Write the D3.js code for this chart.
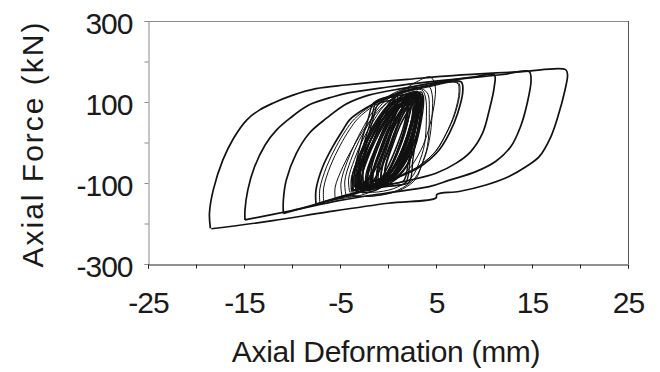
<!DOCTYPE html>
<html>
<head>
<meta charset="utf-8">
<script src="https://cdn.jsdelivr.net/npm/d3@7"></script>
<style>
  body { margin: 0; background: #fff; }
  text { font-family: "Liberation Sans", Arial, sans-serif; fill: #1a1a1a; }
</style>
</head>
<body>
<div id="chart"></div>
<script>
// axis setup
var xTicks = [-25, -20, -15, -10, -5, 0, 5, 10, 15, 20, 25];
var xLabels = [-25, -15, -5, 5, 15, 25];
var yTicks = [-300, -200, -100, 0, 100, 200, 300];
var yLabels = [-300, -100, 100, 300];

// big cycles, [deformation mm, force kN]
var cycleA = [[-18.5,-212],[-18.6,-175],[-18.2,-117],[-17.2,-43],[-16.1,10],[-14.7,56],[-13.4,80],[-12,97],[-9.9,117],[-7.5,133],[-4.4,142],[-1.5,149],[2,156],[6,164],[10,170],[14,175],[18.5,180],[18.7,167],[18.35,121],[17.8,72],[16.96,14],[15.75,-35],[14.36,-60],[12.6,-84],[10.2,-105],[7.4,-121],[5.1,-128],[5.0,-137],[0,-150],[-6.4,-172],[-12,-193],[-18.4,-213]];
var cycleB = [[-14.9,-191],[-14.9,-167],[-14.6,-117],[-13.9,-60],[-12.8,-6],[-11.6,31],[-10.2,60],[-8.2,93],[-5.7,113],[-4,123],[0,137],[4,149],[8.8,160],[12,168],[14.7,175],[14.9,154],[14.5,97],[13.8,39],[12.8,-10],[11.2,-47],[9.15,-72],[6.4,-93],[4.3,-109],[0,-124],[-5,-143],[-10,-168],[-14.9,-191]];
var cycleC = [[-10.9,-175],[-10.9,-142],[-10.6,-93],[-9.55,-27],[-8.2,23],[-6.4,60],[-4.35,95],[-2,117],[1.9,135],[6,152],[9,162],[11.07,167],[11.07,138],[10.55,80],[9.85,23],[8.6,-23],[7.1,-51],[5,-76],[1.9,-95],[-2,-116],[-5,-134],[-8,-156],[-10.9,-175]];
var cycleD = [[-7.5,-152],[-7.5,-117],[-6.8,-60],[-5.75,-10],[-4.7,31],[-4,56],[-2.3,85],[0.5,118],[4,140],[7.6,150],[7.8,130],[7.26,72],[6.4,23],[5.35,-18],[4.3,-43],[3,-65],[0,-96],[-4,-131],[-7.5,-152]];
var bigCycles = [cycleA, cycleB, cycleC, cycleD];

// thinner cycles round the core
var midCycles = [
  [[-7.1,-149],[-7.1,-115],[-6.4,-60],[-5.4,-10],[-4.4,30],[-3.5,58],[-1.9,88],[0.8,118],[4.0,138],[7.3,148],[7.5,128],[7.0,72],[6.1,23],[5.1,-18],[4.0,-44],[2.7,-67],[-0.2,-97],[-4,-129],[-7.1,-149]],
  [[-6.7,-146],[-6.7,-112],[-6.0,-58],[-5.0,-8],[-4.0,32],[-3.1,60],[-1.5,90],[1.0,118],[4.2,137],[7.2,147],[7.4,126],[6.9,70],[6.0,20],[5.0,-20],[3.9,-46],[2.5,-68],[-0.4,-98],[-3.8,-127],[-6.7,-146]],
  [[-5.5,-140],[-5.5,-110],[-4.7,-60],[-3.6,-10],[-2.3,40],[-0.6,88],[1.3,124],[3.0,150],[4.4,162],[4.9,142],[4.8,92],[4.2,30],[3.4,-20],[2.0,-70],[-0.3,-106],[-2.8,-130],[-5.5,-140]],
  [[-4.8,-132],[-4.9,-100],[-4.3,-50],[-3.4,0],[-2.4,45],[-1.2,88],[0.3,118],[2.0,134],[4.2,140],[4.6,118],[4.6,70],[4.3,5],[3.7,-45],[2.8,-88],[1.0,-118],[-1.5,-132],[-4.8,-132]],
  [[-4.4,-128],[-4.5,-95],[-3.9,-45],[-3.0,5],[-2.0,47],[-0.9,88],[0.5,116],[1.9,132],[3.2,135],[4.1,122],[4.3,72],[4.1,-10],[3.5,-55],[2.9,-90],[1.5,-115],[-0.5,-129],[-2.6,-133],[-4.4,-128]],
  [[-4.0,-122],[-4.1,-90],[-3.5,-42],[-2.6,8],[-1.6,50],[-0.5,88],[0.9,114],[2.2,128],[3.5,130],[3.9,112],[4.0,65],[3.8,-5],[3.2,-52],[2.5,-85],[1.0,-110],[-1.0,-122],[-4.0,-122]]
];

// dense core cycles
var coreCycles = [
  [[-3.6,-117],[-3.7,-82],[-3.0,-32],[-2.0,18],[-1.0,58],[0.2,93],[2.4,117],[3.3,122],[3.45,97],[3.3,52],[2.8,-8],[1.9,-58],[0.7,-88],[-2.1,-109],[-3.6,-117]],
  [[-3.2,-112],[-3.2,-80],[-2.5,-30],[-1.5,20],[-0.5,60],[0.7,92],[2.2,112],[3.0,118],[3.1,95],[2.9,50],[2.3,-5],[1.4,-55],[0.2,-88],[-1.8,-106],[-3.2,-112]],
  [[-2.8,-108],[-2.9,-75],[-2.1,-25],[-1.0,25],[0.0,62],[1.2,90],[2.5,106],[3.4,110],[3.5,88],[3.2,40],[2.6,-10],[1.6,-58],[0.4,-90],[-1.4,-104],[-2.8,-108]],
  [[-2.2,-105],[-2.1,-70],[-1.4,-20],[-0.5,30],[0.4,68],[1.4,96],[2.2,110],[2.6,112],[2.7,90],[2.3,40],[1.7,-10],[0.9,-55],[-0.2,-88],[-1.3,-101],[-2.2,-105]],
  [[-3.8,-120],[-3.8,-88],[-3.1,-40],[-2.2,12],[-1.2,55],[0.0,92],[1.6,116],[2.8,125],[3.1,102],[3.0,55],[2.5,0],[1.6,-50],[0.4,-85],[-1.8,-110],[-3.8,-120]],
  [[-1.8,-98],[-1.7,-60],[-1.0,-10],[-0.1,38],[0.8,74],[1.6,96],[2.2,105],[2.3,85],[1.9,35],[1.2,-15],[0.4,-58],[-0.6,-86],[-1.8,-98]],
  [[-3.0,-115],[-3.2,-85],[-2.6,-35],[-1.6,15],[-0.6,55],[0.8,88],[2.4,110],[3.6,118],[3.7,95],[3.4,45],[2.9,-5],[2.0,-55],[0.8,-88],[-1.2,-108],[-3.0,-115]],
  [[-2.5,-110],[-2.6,-72],[-1.9,-22],[-1.0,28],[0.0,68],[1.0,98],[2.2,118],[3.1,126],[3.2,100],[2.8,45],[2.1,-10],[1.2,-60],[0.0,-92],[-1.3,-106],[-2.5,-110]],
  [[-3.4,-104],[-3.3,-70],[-2.6,-22],[-1.6,28],[-0.6,66],[0.6,96],[1.6,112],[2.4,118],[2.6,96],[2.4,48],[1.8,-5],[0.9,-52],[-0.3,-84],[-1.9,-100],[-3.4,-104]],
  [[-1.2,-100],[-1.1,-65],[-0.4,-15],[0.4,32],[1.2,70],[2.0,96],[2.9,108],[2.9,88],[2.3,40],[1.6,-10],[0.7,-55],[-0.3,-88],[-1.2,-100]],
  [[-2.0,-120],[-2.1,-85],[-1.5,-38],[-0.7,10],[0.2,52],[1.0,82],[1.8,100],[2.0,80],[1.7,30],[1.0,-20],[0.2,-65],[-0.8,-100],[-2.0,-120]],
  [[-3.3,-122],[-3.4,-92],[-2.8,-45],[-1.8,5],[-0.8,48],[0.5,82],[2.0,104],[3.3,112],[3.5,90],[3.3,42],[2.8,-10],[1.9,-60],[0.6,-95],[-1.4,-115],[-3.3,-122]],
  [[-2.6,-96],[-2.6,-62],[-1.9,-15],[-0.8,35],[0.3,72],[1.5,100],[2.6,118],[3.5,124],[3.6,102],[3.3,52],[2.7,0],[1.8,-48],[0.5,-80],[-1.2,-93],[-2.6,-96]],
  [[-0.8,-96],[-0.6,-55],[0.0,-5],[0.7,45],[1.4,82],[2.0,98],[2.1,75],[1.6,25],[0.9,-25],[0.2,-68],[-0.8,-96]],
  [[-1.5,-112],[-1.6,-78],[-1.0,-30],[-0.1,20],[0.9,60],[2.0,88],[3.2,100],[3.2,80],[2.7,30],[2.0,-20],[1.1,-65],[-0.1,-98],[-1.5,-112]],
  [[-2.9,-118],[-3.0,-85],[-2.3,-35],[-1.3,15],[-0.3,55],[0.9,88],[2.1,108],[3.0,114],[3.2,92],[3.0,45],[2.4,-8],[1.5,-58],[0.3,-92],[-1.4,-112],[-2.9,-118]],
  [[-3.5,-110],[-3.5,-78],[-2.8,-30],[-1.8,20],[-0.8,60],[0.4,92],[1.8,112],[2.9,120],[3.1,98],[2.8,50],[2.2,-2],[1.3,-52],[0.1,-86],[-1.8,-104],[-3.5,-110]],
  [[-2.3,-114],[-2.3,-80],[-1.6,-30],[-0.6,22],[0.4,62],[1.5,94],[2.6,114],[3.3,118],[3.4,95],[3.0,45],[2.4,-5],[1.5,-55],[0.4,-90],[-1.0,-108],[-2.3,-114]],
  [[-1.6,-108],[-1.5,-72],[-0.8,-22],[0.1,28],[1.0,68],[1.9,98],[2.7,114],[2.8,92],[2.3,42],[1.6,-8],[0.7,-55],[-0.4,-92],[-1.6,-108]],
  [[-3.1,-100],[-3.0,-66],[-2.3,-18],[-1.3,32],[-0.2,70],[1.0,98],[2.1,114],[2.8,120],[2.9,98],[2.6,50],[2.0,0],[1.1,-48],[-0.1,-80],[-1.6,-96],[-3.1,-100]],
  [[-0.4,-102],[-0.3,-62],[0.3,-12],[1.0,38],[1.7,76],[2.4,100],[3.0,112],[3.0,90],[2.5,40],[1.8,-12],[1.0,-58],[0.2,-90],[-0.4,-102]],
  [[-2.7,-124],[-2.8,-92],[-2.2,-45],[-1.3,5],[-0.3,48],[0.8,84],[2.0,106],[2.9,112],[3.0,90],[2.7,42],[2.1,-10],[1.2,-62],[0.0,-98],[-1.3,-118],[-2.7,-124]],
  [[-1.0,-110],[-1.0,-75],[-0.4,-25],[0.4,25],[1.3,66],[2.2,96],[3.2,116],[3.3,92],[2.8,42],[2.1,-10],[1.2,-58],[0.1,-92],[-1.0,-110]],
  [[-3.7,-118],[-3.4,-60],[-2.8,0],[-2.1,55],[-1.5,98],[-0.5,110],[1.5,117],[3.3,121],[3.4,80],[3.0,20],[2.6,-40],[2.2,-98],[1.0,-105],[-1.5,-112],[-3.7,-118]],
  [[-3.3,-112],[-3.0,-55],[-2.4,5],[-1.7,60],[-1.2,100],[0.5,112],[2.8,118],[3.1,75],[2.7,15],[2.3,-45],[1.8,-100],[0.0,-108],[-3.3,-112]],
  [[-3.0,-105],[-2.7,-50],[-2.1,10],[-1.5,62],[-1.0,95],[1.0,106],[3.0,112],[3.1,70],[2.6,10],[2.1,-50],[1.6,-95],[-0.5,-102],[-3.0,-105]]
];

// narrow sub-cycles filling the middle of the core
var narrowCycles = [
  [[-3.2,-118],[-3.0,-76],[-2.3,-26],[-1.5,24],[-0.6,66],[0.1,96],[0.6,110],[0.7,90],[0.2,40],[-0.5,-10],[-1.4,-60],[-2.3,-98],[-3.2,-118]],
  [[-2.8,-112],[-2.6,-70],[-1.9,-20],[-1.1,30],[-0.2,72],[0.5,100],[0.9,115],[1.0,95],[0.5,45],[-0.2,-5],[-1.1,-55],[-2.0,-92],[-2.8,-112]],
  [[-2.3,-116],[-2.1,-74],[-1.4,-24],[-0.6,26],[0.3,68],[1.0,98],[1.4,114],[1.5,94],[1.0,44],[0.3,-6],[-0.6,-56],[-1.5,-94],[-2.3,-116]],
  [[-1.8,-114],[-1.6,-72],[-0.9,-22],[-0.1,28],[0.8,70],[1.5,100],[1.9,116],[2.1,96],[1.7,46],[1.0,-4],[0.1,-54],[-0.8,-92],[-1.8,-114]],
  [[-1.3,-110],[-1.1,-68],[-0.4,-18],[0.4,32],[1.3,74],[2.0,102],[2.4,118],[2.5,98],[2.0,48],[1.3,-2],[0.4,-52],[-0.5,-90],[-1.3,-110]],
  [[-0.8,-104],[-0.6,-62],[0.1,-12],[0.9,38],[1.8,78],[2.5,104],[2.9,118],[3.0,98],[2.5,50],[1.8,0],[0.9,-48],[0.0,-85],[-0.8,-104]],
  [[-0.4,-98],[-0.2,-56],[0.5,-6],[1.3,44],[2.2,82],[2.9,106],[3.3,120],[3.4,100],[2.9,52],[2.2,2],[1.3,-46],[0.4,-80],[-0.4,-98]]
];

var width = 660, height = 372;
var padL = 148, padR = 628, padT = 21, padB = 264;

var svg = d3.select("#chart").append("svg")
    .attr("width", width)
    .attr("height", height);

var x = d3.scaleLinear().domain([-25, 25]).range([padL, padR]);
var y = d3.scaleLinear().domain([-300, 300]).range([padB, padT]);

// frame
svg.append("line").attr("x1", padL).attr("x2", padR).attr("y1", padT + 0.5).attr("y2", padT + 0.5)
    .attr("stroke", "#8a8a8a");
svg.append("line").attr("x1", padR + 0.5).attr("x2", padR + 0.5).attr("y1", padT).attr("y2", padB)
    .attr("stroke", "#555");

var line = d3.line()
    .x(function (d) { return x(d[0]); })
    .y(function (d) { return y(d[1]); })
    .curve(d3.curveCatmullRom.alpha(0.5));

var plot = svg.append("g").attr("fill", "none").attr("stroke", "#111")
    .attr("stroke-linejoin", "round");

plot.selectAll(".narrow").data(narrowCycles).enter().append("path")
    .attr("class", "narrow").attr("stroke-width", 1.6).attr("d", line);
plot.selectAll(".core").data(coreCycles).enter().append("path")
    .attr("class", "core").attr("stroke-width", 1.4).attr("d", line);
plot.selectAll(".mid").data(midCycles).enter().append("path")
    .attr("class", "mid").attr("stroke-width", 1).attr("d", line);
plot.selectAll(".big").data(bigCycles).enter().append("path")
    .attr("class", "big").attr("stroke-width", 1.7).attr("d", line);

// axes
var yAxis = d3.axisLeft(y).tickValues(yTicks).tickSize(4).tickPadding(12)
    .tickFormat(function (d) { return yLabels.indexOf(d) >= 0 ? d : ""; });
var gy = svg.append("g").attr("transform", "translate(" + (padL + 0.5) + ",0)").call(yAxis);
gy.selectAll("path, line").attr("stroke", "#8a8a8a");
gy.selectAll("text").attr("font-size", 30).attr("dy", "0.42em").attr("letter-spacing", -1)
    .style("font-family", "'Liberation Sans', Arial, sans-serif").attr("fill", "#1a1a1a");

var xAxis = d3.axisBottom(x).tickValues(xTicks).tickSize(4).tickPadding(23)
    .tickFormat(function (d) { return xLabels.indexOf(d) >= 0 ? d : ""; });
var gx = svg.append("g").attr("transform", "translate(0," + (padB + 0.5) + ")").call(xAxis);
gx.selectAll("path, line").attr("stroke", "#222");
gx.selectAll("text").attr("font-size", 30).attr("letter-spacing", -1)
    .style("font-family", "'Liberation Sans', Arial, sans-serif").attr("fill", "#1a1a1a");

// titles
svg.append("text")
    .attr("x", (padL + padR) / 2 - 2)
    .attr("y", 362)
    .attr("text-anchor", "middle")
    .attr("font-size", 30)
    .attr("letter-spacing", -0.3)
    .text("Axial Deformation (mm)");

svg.append("text")
    .attr("transform", "translate(43,144) rotate(-90)")
    .attr("text-anchor", "middle")
    .attr("font-size", 30)
    .attr("letter-spacing", 2)
    .text("Axial Force (kN)");
</script>
</body>
</html>
